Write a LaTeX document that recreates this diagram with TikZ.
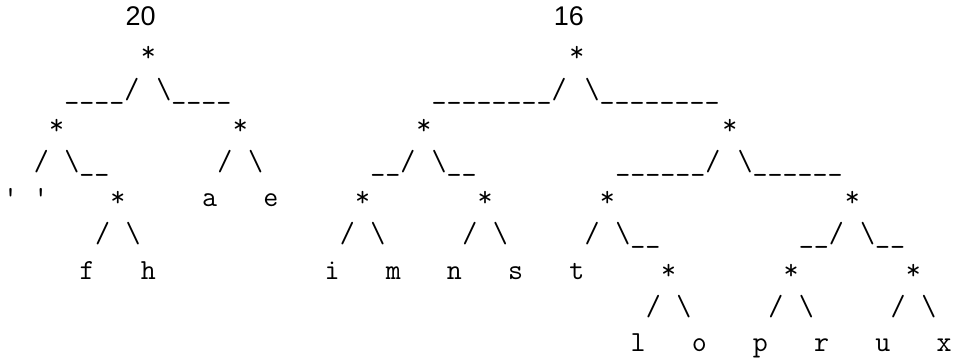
\documentclass[tikz,border=0pt]{standalone}
\usepackage{fontspec}
\newfontfamily\weightfont{Liberation Sans}

\begin{document}
\begin{tikzpicture}[x=7.65pt,y=-18.1pt,
 glyph/.style={anchor=base west,inner sep=0pt,
  font=\fontsize{14.57pt}{17pt}\selectfont\ttfamily},
 weight/.style={anchor=base,inner sep=0pt,
  font=\fontsize{13.5pt}{16pt}\selectfont\weightfont}]
\useasboundingbox (-0.686,-0.707) rectangle (61.6,9.155);
% left tree, weight 20
\node[weight] (w20) at (8.5,0) {20};
\node[glyph] (r20) at (8.5,1) {*};
\node[glyph] (r20l) at (3.5,2) {\_\_\_\_/};
\node[glyph] (r20r) at (9.5,2) {\textbackslash\_\_\_\_};
\node[glyph] (n1) at (2.5,3) {*};
\node[glyph] (n2) at (14.5,3) {*};
\node[glyph] (n1l) at (1.5,4) {/};
\node[glyph] (n1r) at (3.5,4) {\textbackslash\_\_};
\node[glyph] (n2l) at (13.5,4) {/};
\node[glyph] (n2r) at (15.5,4) {\textbackslash};
\node[glyph] (lsp) at (-0.5,5) {\textquotesingle\ \textquotesingle};
\node[glyph] (n3) at (6.5,5) {*};
\node[glyph] (la) at (12.5,5) {a};
\node[glyph] (le) at (16.5,5) {e};
\node[glyph] (n3l) at (5.5,6) {/};
\node[glyph] (n3r) at (7.5,6) {\textbackslash};
\node[glyph] (lf) at (4.5,7) {f};
\node[glyph] (lh) at (8.5,7) {h};
% right tree, weight 16
\node[weight] (w16) at (36.5,0) {16};
\node[glyph] (r16) at (36.5,1) {*};
\node[glyph] (r16l) at (27.5,2) {\_\_\_\_\_\_\_\_/};
\node[glyph] (r16r) at (37.5,2) {\textbackslash\_\_\_\_\_\_\_\_};
\node[glyph] (m1) at (26.5,3) {*};
\node[glyph] (m2) at (46.5,3) {*};
\node[glyph] (m1l) at (23.5,4) {\_\_/};
\node[glyph] (m1r) at (27.5,4) {\textbackslash\_\_};
\node[glyph] (m2l) at (39.5,4) {\_\_\_\_\_\_/};
\node[glyph] (m2r) at (47.5,4) {\textbackslash\_\_\_\_\_\_};
\node[glyph] (m3) at (22.5,5) {*};
\node[glyph] (m4) at (30.5,5) {*};
\node[glyph] (m5) at (38.5,5) {*};
\node[glyph] (m6) at (54.5,5) {*};
\node[glyph] (m3l) at (21.5,6) {/};
\node[glyph] (m3r) at (23.5,6) {\textbackslash};
\node[glyph] (m4l) at (29.5,6) {/};
\node[glyph] (m4r) at (31.5,6) {\textbackslash};
\node[glyph] (m5l) at (37.5,6) {/};
\node[glyph] (m5r) at (39.5,6) {\textbackslash\_\_};
\node[glyph] (m6l) at (51.5,6) {\_\_/};
\node[glyph] (m6r) at (55.5,6) {\textbackslash\_\_};
\node[glyph] (li) at (20.5,7) {i};
\node[glyph] (lm) at (24.5,7) {m};
\node[glyph] (ln) at (28.5,7) {n};
\node[glyph] (ls) at (32.5,7) {s};
\node[glyph] (lt) at (36.5,7) {t};
\node[glyph] (m7) at (42.5,7) {*};
\node[glyph] (m8) at (50.5,7) {*};
\node[glyph] (m9) at (58.5,7) {*};
\node[glyph] (m7l) at (41.5,8) {/};
\node[glyph] (m7r) at (43.5,8) {\textbackslash};
\node[glyph] (m8l) at (49.5,8) {/};
\node[glyph] (m8r) at (51.5,8) {\textbackslash};
\node[glyph] (m9l) at (57.5,8) {/};
\node[glyph] (m9r) at (59.5,8) {\textbackslash};
\node[glyph] (ll) at (40.5,9) {l};
\node[glyph] (lo) at (44.5,9) {o};
\node[glyph] (lp) at (48.5,9) {p};
\node[glyph] (lr) at (52.5,9) {r};
\node[glyph] (lu) at (56.5,9) {u};
\node[glyph] (lx) at (60.5,9) {x};
\end{tikzpicture}
\end{document}
